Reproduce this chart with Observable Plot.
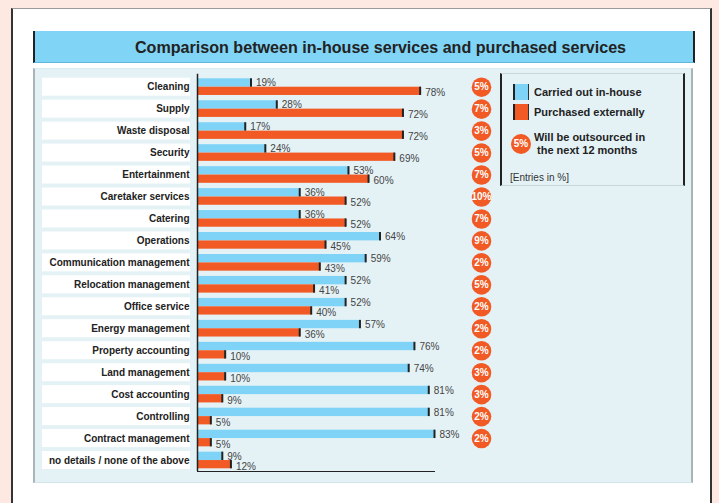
<!DOCTYPE html>
<html>
<head>
<meta charset="utf-8">
<script src="https://cdn.jsdelivr.net/npm/d3@7"></script>
<script src="https://cdn.jsdelivr.net/npm/@observablehq/plot@0.6"></script>
<style>
  html, body { margin: 0; padding: 0; }
  body { width: 719px; height: 503px; overflow: hidden; position: relative; background: #fde9e1; font-family: "Liberation Sans", Arial, Helvetica, sans-serif; }
  .abs { position: absolute; box-sizing: border-box; }
  #panel { left: 11px; top: 8px; width: 701px; height: 520px; background: #fff; border-left: 2px solid #333; border-right: 2px solid #333; border-top: 1px solid #999; }
  #titlebar { left: 33px; top: 31px; width: 662px; height: 32px; background: #80d4f6; border-left: 2px solid #222; border-right: 2px solid #222; border-bottom: 1px solid #62b8dc; }
  #titlebar span { position: absolute; left: 100px; top: 7px; font-size: 16.1px; font-weight: bold; color: #222; white-space: nowrap; }
  #chartbg { left: 33px; top: 68px; width: 660px; height: 415px; background: #e4f2f6; border-left: 2px solid #a9b4b8; border-right: 2px solid #a9b4b8; border-bottom: 1px solid #d2e3e9; border-top: 1px solid #d9ecf2; }
  #legend { left: 500px; top: 73px; width: 185px; height: 113px; border-left: 2px solid #222; border-right: 2px solid #222; border-top: 1px solid #c9d6da; border-bottom: 1px solid #c9d6da; }
  .sw { position: absolute; width: 16px; height: 16px; box-sizing: border-box; border-left: 2px solid #222; border-right: 1px solid #333; }
  .lt { position: absolute; font-size: 11px; font-weight: bold; color: #222; white-space: nowrap; line-height: 13px; }
  .badge { position: absolute; width: 20px; height: 20px; border-radius: 50%; background: #f15a24; color: #fff; font-weight: bold; font-size: 10px; line-height: 20px; text-align: center; }
  #plot { left: 0; top: 0; }
</style>
</head>
<body>
<div id="panel" class="abs"></div>
<div id="titlebar" class="abs"><span>Comparison between in-house services and purchased services</span></div>
<div id="chartbg" class="abs"></div>
<div id="legend" class="abs">
  <div class="sw" style="left:11px; top:10px; background:#7fd3f6;"></div>
  <div class="lt" style="left:32px; top:12px;">Carried out in-house</div>
  <div class="sw" style="left:11px; top:30px; background:#f15a24;"></div>
  <div class="lt" style="left:32px; top:32px;">Purchased externally</div>
  <div class="badge" style="left:9px; top:60px;">5%</div>
  <div class="lt" style="left:32px; top:57px;">Will be outsourced in<br>&nbsp;the next 12 months</div>
  <div class="lt" style="left:8px; top:97px; font-weight:normal; font-size:10px; color:#333;">[Entries in %]</div>
</div>
<div id="plot" class="abs"></div>
<script>
const categories = [
  "Cleaning", "Supply", "Waste disposal", "Security", "Entertainment",
  "Caretaker services", "Catering", "Operations", "Communication management",
  "Relocation management", "Office service", "Energy management",
  "Property accounting", "Land management", "Cost accounting", "Controlling",
  "Contract management", "no details / none of the above"
];
const inHouse   = [19, 28, 17, 24, 53, 36, 36, 64, 59, 52, 52, 57, 76, 74, 81, 81, 83, 9];
const purchased = [78, 72, 72, 69, 60, 52, 52, 45, 43, 41, 40, 36, 10, 10,  9,  5,  5, 12];
const outsourced = [5, 7, 3, 5, 7, 10, 7, 9, 2, 5, 2, 2, 2, 3, 3, 2, 2, null];

const BLUE = "#7fd3f6", ORANGE = "#f15a24";

const blueData = categories.map((c, i) => ({cat: c, v: inHouse[i]}));
const orangeData = categories.map((c, i) => ({cat: c, v: purchased[i]}));
const badgeData = categories.map((c, i) => ({cat: c, v: outsourced[i]})).filter(d => d.v != null);

const chart = Plot.plot({
  width: 719,
  height: 503,
  marginLeft: 197,
  marginRight: 284,
  marginTop: 75.7,
  marginBottom: 32,
  style: {background: "transparent", fontFamily: "'Liberation Sans', Arial, Helvetica, sans-serif"},
  x: {domain: [0, 83], axis: null},
  y: {domain: categories, type: "band", padding: 0, round: false, axis: null},
  marks: [
    // label boxes
    Plot.barX(categories, {y: d => d, x1: 0, x2: 0, insetLeft: -155, insetRight: 7, insetTop: 2, insetBottom: 2, fill: "white"}),
    Plot.text(categories, {y: d => d, frameAnchor: "left", dx: -8, textAnchor: "end", text: d => d, fontSize: 10, fontWeight: "bold", fill: "#222"}),
    // bars
    Plot.barX(blueData, {y: "cat", x: "v", insetTop: 2.6, insetBottom: 11, fill: BLUE}),
    Plot.barX(orangeData, {y: "cat", x: "v", insetTop: 11, insetBottom: 2.7, fill: ORANGE}),
    Plot.tickX(blueData, {y: "cat", x: "v", insetTop: 2.6, insetBottom: 11, stroke: "#222", strokeWidth: 2, dx: -1}),
    Plot.tickX(orangeData, {y: "cat", x: "v", insetTop: 11, insetBottom: 2.7, stroke: "#222", strokeWidth: 2, dx: -1}),
    // value labels
    Plot.text(blueData, {y: "cat", x: "v", text: d => d.v + "%", dx: 4, dy: -4, textAnchor: "start", fontSize: 10, fill: "#444"}),
    Plot.text(orangeData, {y: "cat", x: "v", text: d => d.v + "%", dx: 4, dy: 6, textAnchor: "start", fontSize: 10, fill: "#444"}),
    // axes lines
    Plot.ruleX([0], {stroke: "#222", strokeWidth: 1.5, insetTop: -2}),
    Plot.ruleY(categories.slice(-1), {y: d => d, dy: 11, stroke: "#222", strokeWidth: 1.2}),
    // badges
    Plot.dot(badgeData, {y: "cat", frameAnchor: "right", dx: 46, r: 9.8, fill: ORANGE, stroke: null}),
    Plot.text(badgeData, {y: "cat", frameAnchor: "right", dx: 46, textAnchor: "middle", text: d => d.v + "%", fill: "white", fontWeight: "bold", fontSize: 10})
  ]
});
document.getElementById("plot").appendChild(chart);
</script>
</body>
</html>
